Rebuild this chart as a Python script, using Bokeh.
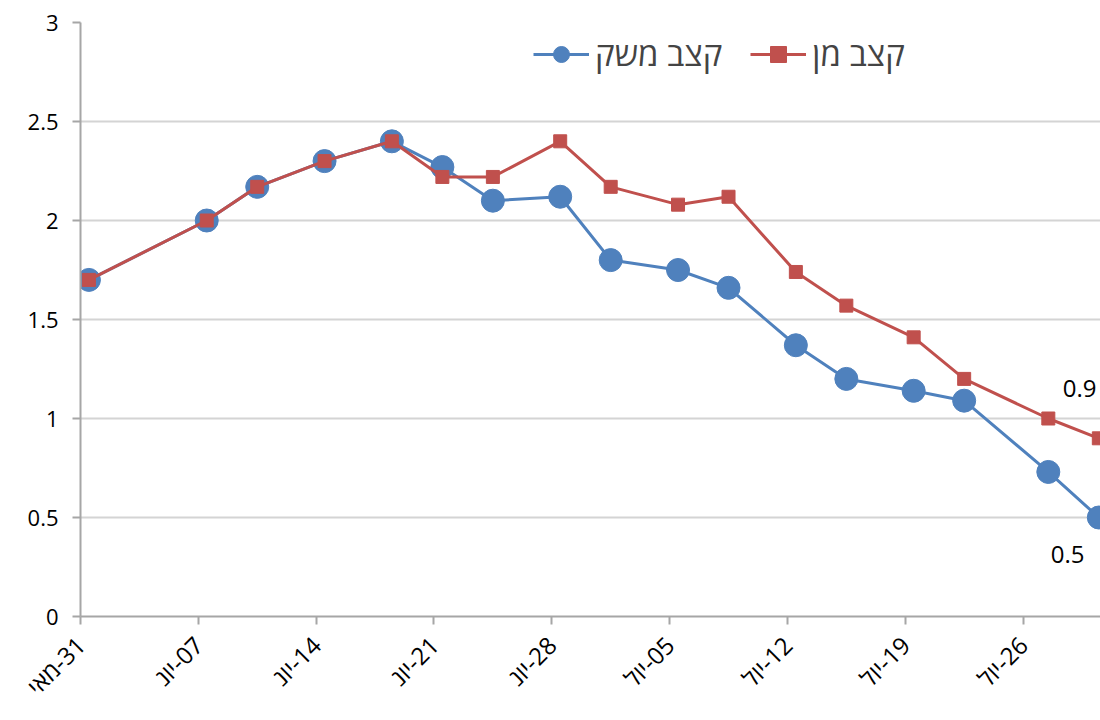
import pandas as pd
from math import pi
from bokeh.plotting import figure
from bokeh.models import Range1d, FixedTicker, Legend, LegendItem, ColumnDataSource
from bokeh.core.properties import value
from bokeh.embed import file_html
from bokeh.resources import INLINE

# ---- data ----
dates = ["2020-05-31", "2020-06-07", "2020-06-10", "2020-06-14", "2020-06-18",
         "2020-06-21", "2020-06-24", "2020-06-28", "2020-07-01", "2020-07-05",
         "2020-07-08", "2020-07-12", "2020-07-15", "2020-07-19", "2020-07-22",
         "2020-07-27", "2020-07-30"]
economy = [1.70, 2.00, 2.17, 2.30, 2.40, 2.27, 2.10, 2.12, 1.80, 1.75,
           1.66, 1.37, 1.20, 1.14, 1.09, 0.73, 0.50]
mann = [1.70, 2.00, 2.17, 2.30, 2.40, 2.22, 2.22, 2.40, 2.17, 2.08,
        2.12, 1.74, 1.57, 1.41, 1.20, 1.00, 0.90]
series_names = ["קצב משק", "קצב מן"]
tick_dates = ["2020-05-31", "2020-06-07", "2020-06-14", "2020-06-21", "2020-06-28",
              "2020-07-05", "2020-07-12", "2020-07-19", "2020-07-26"]
tick_labels = ["31-מאי", "07-יונ", "14-יונ", "21-יונ", "28-יונ",
               "05-יול", "12-יול", "19-יול", "26-יול"]
y_ticks = [0, 0.5, 1, 1.5, 2, 2.5, 3]
y_tick_labels = ["0", "0.5", "1", "1.5", "2", "2.5", "3"]

# ---- derived positions (days since start, points centred in their day) ----
start = pd.Timestamp(dates[0])
xday = [(pd.Timestamp(d) - start).days + 0.5 for d in dates]
tick_days = [(pd.Timestamp(d) - start).days for d in tick_dates]


def visual_label(s):
    day, month = s.split("-", 1)
    return f"{month}\u200e-{day}"


BLUE = "#4F81BD"
RED = "#C0504D"
FONT = "Open Sans"

src = ColumnDataSource(dict(x=xday, a=economy, b=mann))

p = figure(width=1100, height=720, output_backend="svg", toolbar_location=None,
           x_range=Range1d(0, 60.6), y_range=Range1d(0, 3),
           min_border_left=80, min_border_right=0, min_border_top=22, min_border_bottom=104)
p.outline_line_color = None
p.background_fill_color = "white"

# grid
p.xgrid.grid_line_color = None
p.ygrid.ticker = FixedTicker(ticks=y_ticks)
p.ygrid.grid_line_color = "#d4d4d4"
p.ygrid.grid_line_width = 2

# axes
p.yaxis.ticker = FixedTicker(ticks=y_ticks)
p.yaxis.major_label_overrides = {t: l for t, l in zip(y_ticks, y_tick_labels)}
p.xaxis.ticker = FixedTicker(ticks=tick_days)
p.xaxis.major_label_overrides = {t: visual_label(l) for t, l in zip(tick_days, tick_labels)}
p.xaxis.major_label_orientation = pi / 4
for ax in (p.xaxis[0], p.yaxis[0]):
    ax.axis_line_color = "#a6a6a6"
    ax.axis_line_width = 2
    ax.major_tick_line_color = "#a6a6a6"
    ax.major_tick_line_width = 2
    ax.major_tick_out = 8
    ax.major_tick_in = 0
    ax.minor_tick_line_color = None
    ax.major_label_text_font = FONT
    ax.major_label_text_font_size = "22px"
    ax.major_label_text_color = "#000000"
p.xaxis.major_label_text_font_size = "24px"
p.yaxis.major_label_standoff = 14
p.xaxis.major_label_standoff = 16

# series
bl = p.line("x", "a", source=src, line_color=BLUE, line_width=3)
bc = p.scatter("x", "a", source=src, marker="circle", size=23,
               fill_color=BLUE, line_color=BLUE)
rl = p.line("x", "b", source=src, line_color=RED, line_width=3)
rs = p.scatter("x", "b", source=src, marker="square", size=13,
               fill_color=RED, line_color=RED)

# end labels
p.text(x=[xday[-1]], y=[mann[-1]], text=[f"{mann[-1]:g}"], x_offset=-36, y_offset=-50,
       text_align="left", text_baseline="middle", text_font=value(FONT),
       text_font_size="24px", text_color="black")
p.text(x=[xday[-1]], y=[economy[-1]], text=[f"{economy[-1]:g}"], x_offset=-48, y_offset=37,
       text_align="left", text_baseline="middle", text_font=value(FONT),
       text_font_size="24px", text_color="black")

legend = Legend(items=[LegendItem(label=series_names[0], renderers=[bl, bc]),
                       LegendItem(label=series_names[1], renderers=[rl, rs])],
                orientation="horizontal", location=(453, 540))
legend.label_text_font = FONT
legend.label_text_font_size = "33px"
legend.glyph_width = 56
legend.glyph_height = 40
legend.label_standoff = 6
legend.spacing = 28
legend.padding = 0
legend.margin = 0
legend.border_line_color = None
legend.background_fill_alpha = 0
p.add_layout(legend, "center")

open("out.html", "w").write(file_html(p, INLINE))
